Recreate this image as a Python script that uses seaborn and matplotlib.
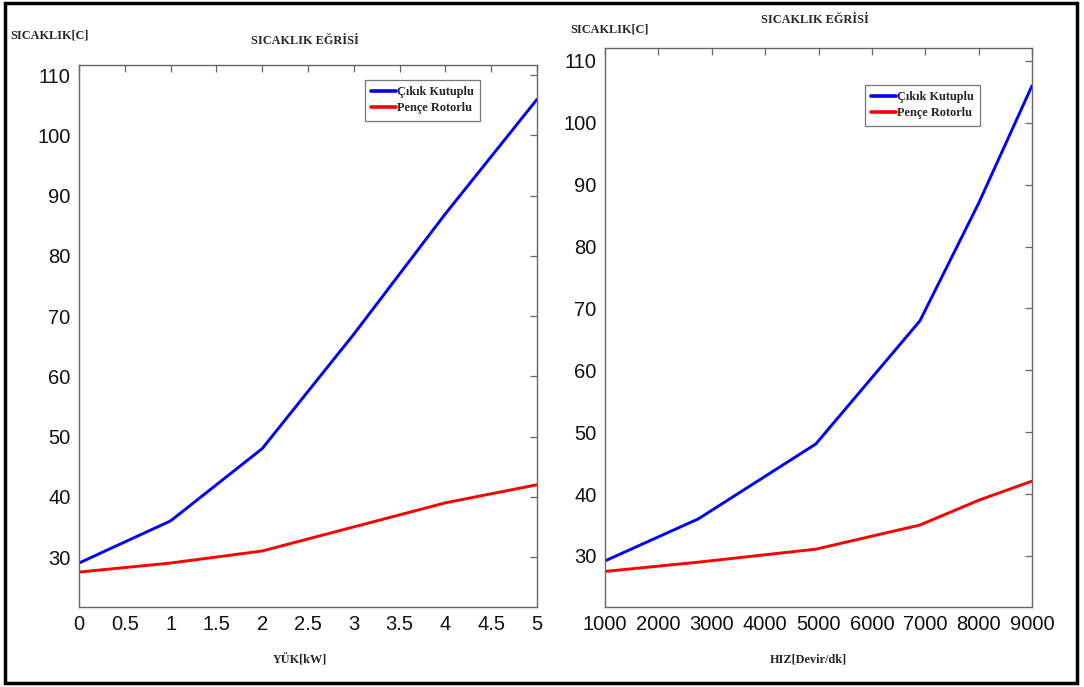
import matplotlib
matplotlib.use("Agg")
import matplotlib.pyplot as plt
import seaborn as sns
import pandas as pd
from matplotlib.patches import Rectangle

# Temperature vs. load (left panel)
load_kw = [0, 1, 2, 3, 4, 5]
load_cikik = [29.0, 36.0, 48.0, 67.0, 87.0, 106.0]
load_pence = [27.5, 29.0, 31.0, 35.0, 39.0, 42.0]

# Temperature vs. speed (right panel)
speed_rpm = [1000, 2750, 4950, 6900, 8000, 9000]
speed_cikik = [29.2, 36.0, 48.1, 68.0, 87.0, 106.0]
speed_pence = [27.5, 29.0, 31.1, 35.0, 39.0, 42.1]

series_names = ["Çıkık Kutuplu", "Pençe Rotorlu"]
series_colors = ["#0000ff", "#ff0000"]

load_ticks = [0, 0.5, 1, 1.5, 2, 2.5, 3, 3.5, 4, 4.5, 5]
load_ticklabels = ["0", "0.5", "1", "1.5", "2", "2.5", "3", "3.5", "4", "4.5", "5"]
speed_ticks = [1000, 2000, 3000, 4000, 5000, 6000, 7000, 8000, 9000]
temp_ticks = [30, 40, 50, 60, 70, 80, 90, 100, 110]


def long_frame(x, a, b):
    return pd.DataFrame({
        "x": list(x) + list(x),
        "y": list(a) + list(b),
        "seri": [series_names[0]] * len(x) + [series_names[1]] * len(x),
    })


sns.set_style("white")
plt.rcParams["font.family"] = ["Liberation Sans", "DejaVu Sans"]

fig = plt.figure(figsize=(10.84, 6.87), dpi=100)

ax1 = fig.add_axes([79 / 1084, 1 - 607 / 687, 458 / 1084, 542 / 687])
ax2 = fig.add_axes([605 / 1084, 1 - 607 / 687, 427 / 1084, 559 / 687])

palette = dict(zip(series_names, series_colors))
sns.lineplot(data=long_frame(load_kw, load_cikik, load_pence), x="x", y="y",
             hue="seri", palette=palette, linewidth=2.1, ax=ax1)
sns.lineplot(data=long_frame(speed_rpm, speed_cikik, speed_pence), x="x", y="y",
             hue="seri", palette=palette, linewidth=2.1, ax=ax2)

serif_bold = dict(family=["Liberation Serif", "DejaVu Serif"], weight="bold")

for ax, xlim, ylim in [(ax1, (0, 5), (21.7, 111.7)), (ax2, (1000, 9000), (21.75, 112.1))]:
    ax.set_xlim(*xlim)
    ax.set_ylim(*ylim)
    ax.set_yticks(temp_ticks)
    ax.set_xlabel("")
    ax.set_ylabel("")
    for s in ax.spines.values():
        s.set_visible(True)
        s.set_color("#666666")
        s.set_linewidth(1.0)
    ax.tick_params(direction="in", length=5, width=0.9, color="#666666",
                   top=True, right=True, labelsize=14.5, labelcolor="#111111",
                   pad=6)
    leg = ax.legend(loc="upper right", frameon=True, borderaxespad=0,
                    fancybox=False, handlelength=2.0, handletextpad=0.1,
                    borderpad=0.5, labelspacing=0.35,
                    prop=dict(family="Liberation Serif", weight="bold", size=8.8))
    leg.get_frame().set_edgecolor("#555555")
    leg.get_frame().set_linewidth(0.9)
    for ln in leg.get_lines():
        ln.set_linewidth(2.6)

ax1.set_xticks(load_ticks)
ax1.set_xticklabels(load_ticklabels)
ax2.set_xticks(speed_ticks)
ax2.set_xticklabels([str(v) for v in speed_ticks])

# legend placement (upper-right corner of each box, figure fraction)
ax1.get_legend().set_bbox_to_anchor((480 / 1084, 1 - 80 / 687), transform=fig.transFigure)
ax2.get_legend().set_bbox_to_anchor((980 / 1084, 1 - 85 / 687), transform=fig.transFigure)

# panel headings, axis captions
fs = 8.8
fig.text(10 / 1084, 1 - 36 / 687, "SICAKLIK[C]", fontsize=fs, va="center", ha="left", **serif_bold)
fig.text(305 / 1084, 1 - 41 / 687, "SICAKLIK EĞRİSİ", fontsize=fs, va="center", ha="center", **serif_bold)
fig.text(570 / 1084, 1 - 30 / 687, "SICAKLIK[C]", fontsize=fs, va="center", ha="left", **serif_bold)
fig.text(815 / 1084, 1 - 20 / 687, "SICAKLIK EĞRİSİ", fontsize=fs, va="center", ha="center", **serif_bold)
fig.text(300 / 1084, 1 - 660 / 687, "YÜK[kW]", fontsize=fs, va="center", ha="center", **serif_bold)
fig.text(808 / 1084, 1 - 660 / 687, "HIZ[Devir/dk]", fontsize=fs, va="center", ha="center", **serif_bold)

# outer frame
fig.patches.append(Rectangle((5 / 1084, 4 / 687), 1072 / 1084, 680 / 687,
                             transform=fig.transFigure, fill=False,
                             edgecolor="black", linewidth=2.5))

fig.savefig("out.png", dpi=100)
